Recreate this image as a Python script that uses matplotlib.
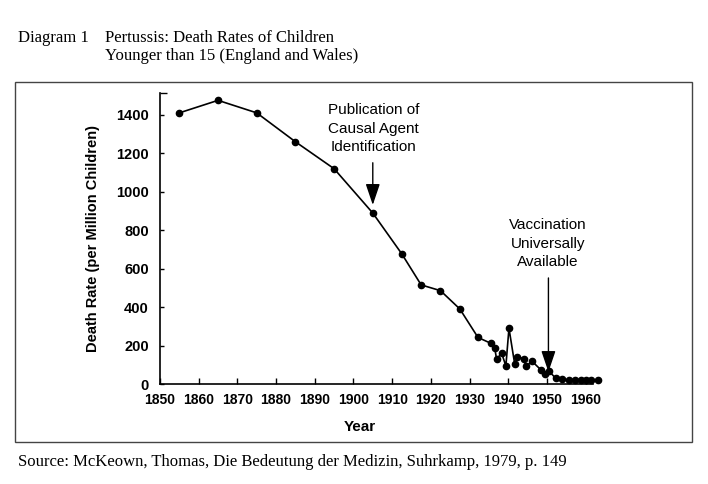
import matplotlib
matplotlib.use('Agg')
import matplotlib.pyplot as plt
from matplotlib.patches import Rectangle

# pertussis death rates
years = [1855, 1865, 1875, 1885, 1895, 1905, 1912.5, 1917.5, 1922.5, 1927.5,
         1932.2, 1935.5, 1936.5, 1937, 1938.3, 1939.4, 1940.2, 1941.7, 1942.4,
         1944, 1944.6, 1946.2, 1948.4, 1949.5, 1950.6, 1952.3, 1954, 1955.7,
         1957.3, 1958.7, 1960, 1961.4, 1963.1]
rates = [1410, 1475, 1410, 1260, 1120, 890, 678, 517, 487, 392,
         244, 214, 192, 131, 163, 96, 292, 104, 144,
         134, 95, 120, 77, 52, 68, 32, 27, 25,
         24, 23, 23, 23, 23]

xticks = list(range(1850, 1961, 10))
yticks = [0, 200, 400, 600, 800, 1000, 1200, 1400]

sans = 'Liberation Sans'
serif = 'Liberation Serif'

fig = plt.figure(figsize=(7.08, 4.84), dpi=100)
ax = fig.add_axes([0.226, 0.2056, 0.612, 0.603])

ax.plot(years, rates, color='black', lw=1.2, marker='o', ms=4.5, clip_on=False, zorder=3)

ax.set_xlim(1850, 1962)
ax.set_ylim(0, 1515)
ax.set_xticks(xticks)
ax.set_yticks(yticks)
ax.set_xticklabels([str(x) for x in xticks], fontfamily=sans, fontweight='bold', fontsize=10)
ax.set_yticklabels([str(y) for y in yticks], fontfamily=sans, fontweight='bold', fontsize=10.5)
ax.tick_params(axis='x', direction='in', length=4, width=1, pad=6)
ax.tick_params(axis='y', direction='in', length=3, width=1, pad=8)
ax.set_yticks([1515], minor=True)
ax.tick_params(axis='y', which='minor', direction='in', length=5, width=1)

for s in ['top', 'right']:
    ax.spines[s].set_visible(False)
for s in ['left', 'bottom']:
    ax.spines[s].set_linewidth(1.2)

# annotations
ax.annotate('', xy=(1905, 932), xytext=(1905, 1151),
            arrowprops=dict(arrowstyle='-|>,head_length=0.65,head_width=0.22',
                            color='black', lw=1, mutation_scale=20, shrinkA=0, shrinkB=0))
ax.text(1905.2, 1327, 'Publication of\nCausal Agent\nIdentification', ha='center', va='center',
        fontfamily=sans, fontsize=11, linespacing=1.4)

ax.annotate('', xy=(1950.4, 65), xytext=(1950.4, 553),
            arrowprops=dict(arrowstyle='-|>,head_length=0.65,head_width=0.22',
                            color='black', lw=1, mutation_scale=20, shrinkA=0, shrinkB=0))
ax.text(1950.3, 730, 'Vaccination\nUniversally\nAvailable', ha='center', va='center',
        fontfamily=sans, fontsize=11, linespacing=1.4)

fig.text(93 / 708, 1 - 238 / 484, 'Death Rate (per Million Children)', rotation=90,
         ha='center', va='center', fontfamily=sans, fontweight='bold', fontsize=10.5)
fig.text(360 / 708, 1 - 427 / 484, 'Year', ha='center', va='center',
         fontfamily=sans, fontweight='bold', fontsize=11)

# frame around the chart
fig.patches.append(Rectangle((15 / 708, 1 - 442 / 484), 677 / 708, 360 / 484,
                             transform=fig.transFigure, fill=False, ec='#444444', lw=1))

fig.text(18 / 708, 1 - 38 / 484, 'Diagram 1', ha='left', va='center', fontfamily=serif, fontsize=12)
fig.text(105 / 708, 1 - 38 / 484, 'Pertussis: Death Rates of Children', ha='left', va='center',
         fontfamily=serif, fontsize=12)
fig.text(105 / 708, 1 - 56 / 484, 'Younger than 15 (England and Wales)', ha='left', va='center',
         fontfamily=serif, fontsize=12)
fig.text(18 / 708, 1 - 462 / 484, 'Source: McKeown, Thomas, Die Bedeutung der Medizin, Suhrkamp, 1979, p. 149',
         ha='left', va='center', fontfamily=serif, fontsize=12)

fig.savefig('out.png', dpi=100)
